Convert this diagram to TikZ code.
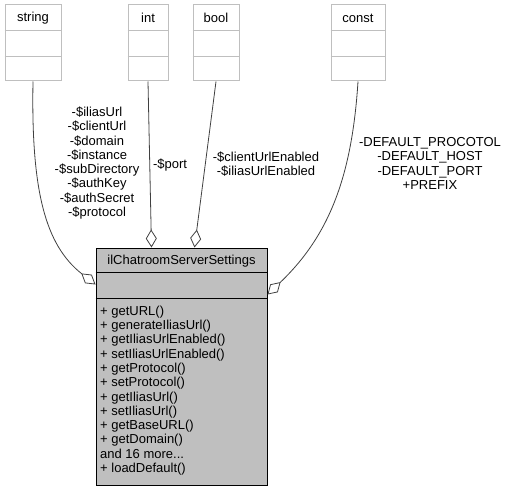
\documentclass[tikz,border=0pt]{standalone}
\usepackage{fontspec}
\setmainfont{Liberation Sans}
\usetikzlibrary{arrows.meta}

\definecolor{boxgray}{HTML}{BFBFBF}
\definecolor{edgegray}{HTML}{404040}

\tikzset{
  typebox/.style={draw=boxgray,fill=white,line width=1pt,minimum height=76pt,inner sep=0pt},
  classbox/.style={draw=black,fill=boxgray,line width=1pt,inner sep=0pt},
  lbl/.style={inner sep=0pt,align=center},
  aggr/.style={draw=edgegray,line width=0.8pt,-{Diamond[open,fill=white,length=18pt,width=11pt]}}
}

\begin{document}
\begin{tikzpicture}[x=1pt,y=-1pt,font=\fontsize{13}{14.3}\selectfont]
          \useasboundingbox (0,0) rectangle (511,492);
          % the four types
          \node[typebox,minimum width=56pt] (string) at (33,43) {};
          \node[typebox,minimum width=40pt] (int) at (148,43) {};
          \node[typebox,minimum width=46pt] (bool) at (216,43) {};
          \node[typebox,minimum width=54pt] (const) at (358,43) {};
          \foreach \b in {string,int,bool,const}
            \draw[boxgray,line width=1pt] ([yshift=-26pt]\b.north west) -- ([yshift=-26pt]\b.north east)
                                          ([yshift=25pt]\b.south west) -- ([yshift=25pt]\b.south east);
          \node[lbl] (stringname) at (33,18) {string};
          \node[lbl] (intname) at (148,18) {int};
          \node[lbl] (boolname) at (216,18) {bool};
          \node[lbl] (constname) at (358,18) {const};
          % the class
          \node[classbox,minimum width=171pt,minimum height=237pt] (main) at (181.5,366.5) {};
          \draw[line width=1pt] (main.north west) ++(0,25) -- ++(171,0);
          \draw[line width=1pt] (main.north west) ++(0,51) -- ++(171,0);
          \node[lbl] (mainname) at (181.5,261) {ilChatroomServerSettings};
          \node[inner sep=0pt,align=left,anchor=west] (methods) at (100,390.5) {%
            + getURL()\\
            + generateIliasUrl()\\
            + getIliasUrlEnabled()\\
            + setIliasUrlEnabled()\\
            + getProtocol()\\
            + setProtocol()\\
            + getIliasUrl()\\
            + setIliasUrl()\\
            + getBaseURL()\\
            + getDomain()\\
            and 16 more...\\
            + loadDefault()};
          % members
          \draw[aggr] (string.south) .. controls (31,190) and (45,245) .. ([yshift=-37pt]main.north west);
          \draw[aggr] (int.south) -- ([xshift=56pt]main.north west);
          \draw[aggr] (bool.south) -- ([xshift=99pt]main.north west);
          \draw[aggr] (const.south) .. controls (352,175) and (330,235) .. ([yshift=-47pt]main.north east);
          \node[lbl] (stringvars) at (97,163) {-\$iliasUrl\\-\$clientUrl\\-\$domain\\-\$instance\\-\$subDirectory\\-\$authKey\\-\$authSecret\\-\$protocol};
          \node[lbl] (intvars) at (170,165) {-\$port};
          \node[lbl] (boolvars) at (266,164) {-\$clientUrlEnabled\\-\$iliasUrlEnabled};
          \node[lbl] (constvars) at (430,163.5) {-DEFAULT\_PROCOTOL\\-DEFAULT\_HOST\\-DEFAULT\_PORT\\+PREFIX};
        \end{tikzpicture}
\end{document}
